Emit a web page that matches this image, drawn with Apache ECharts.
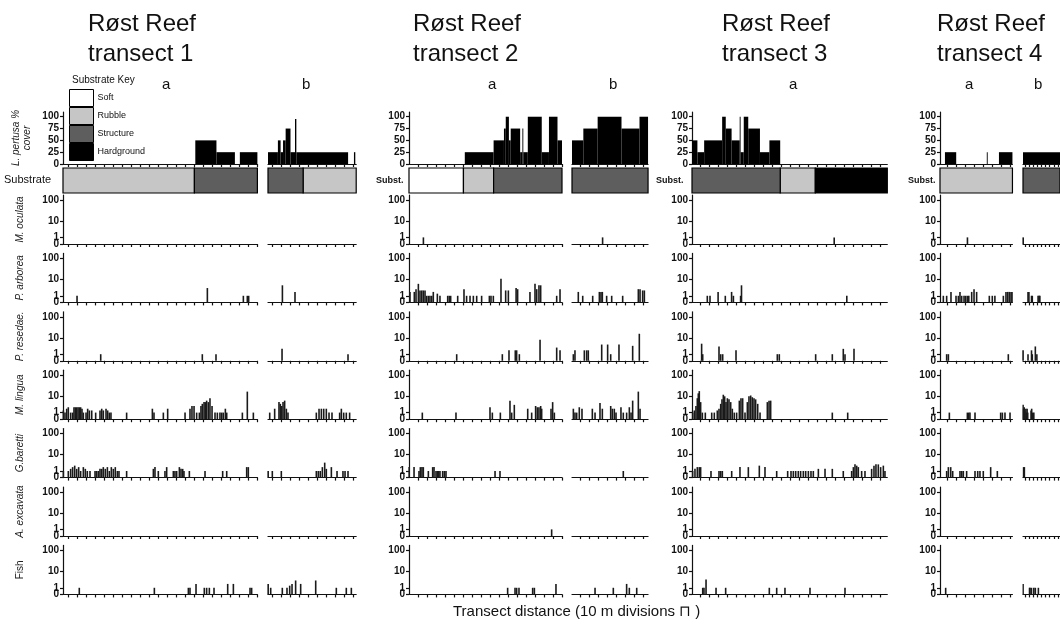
<!DOCTYPE html>
<html>
<head>
<meta charset="utf-8">
<script src="https://cdn.jsdelivr.net/npm/echarts@6/dist/echarts.min.js"></script>
<style>
html, body { margin: 0; background: #fff; }
#chart { width: 1060px; height: 629px; }
</style>
</head>
<body>
<div id="chart"></div>
<script>
// panels: transect segments, lengths in 10 m divisions
var panelNames = ['1a', '1b', '2a', '2b', '3a', '4a', '4b'];
var panelLen = [21.6, 9.8, 17, 8.45, 21.7, 8.05, 9];
var tickStart = [0.6, 0.5, 1.0, 0.9, 0.9, 0.8, 0.5];
var speciesNames = ['M. oculata', 'P. arborea', 'P. resedae.', 'M. lingua', 'G.baretti', 'A. excavata', 'Fish'];
var substrateTypes = ['Soft', 'Rubble', 'Structure', 'Hardground'];
var coverTicks = [0, 25, 50, 75, 100];
var countTicks = [1, 10, 100];
var zeroTick = [0];

// L. pertusa % cover blocks: [start, end, cover]
var pertusa = [
  [[14.7, 17.05, 50], [17.05, 19.1, 25], [19.65, 21.6, 25]],
  [[0, 1.1, 25], [1.1, 1.4, 50], [1.4, 1.67, 25], [1.67, 1.96, 50], [1.96, 2.5, 75], [2.5, 3.0, 25], [3.0, 3.15, 95], [3.15, 8.9, 25], [9.55, 9.7, 25]],
  [[6.2, 9.4, 25], [9.4, 10.55, 50], [10.55, 10.75, 75], [10.75, 11.1, 100], [11.1, 11.3, 50], [11.3, 12.35, 75], [12.35, 12.6, 25], [12.6, 12.7, 75], [12.7, 13.2, 25], [13.2, 14.75, 100], [14.75, 15.55, 25], [15.55, 16.5, 100], [16.5, 17, 50]],
  [[0, 1.26, 50], [1.26, 2.85, 75], [2.85, 5.5, 100], [5.5, 7.5, 75], [7.5, 8.45, 100]],
  [[0, 0.6, 50], [0.6, 1.35, 25], [1.35, 3.35, 50], [3.35, 3.75, 100], [3.75, 4.4, 75], [4.4, 5.3, 50], [5.3, 5.4, 100], [5.4, 5.75, 25], [5.75, 6.25, 100], [6.25, 7.55, 75], [7.55, 8.6, 25], [8.6, 9.8, 50]],
  [[0.55, 1.8, 25], [5.2, 5.3, 25], [6.55, 8.05, 25]],
  [[0, 9, 25]]
];

// substrate: [start, end, type]
var substrate = [
  [[0, 14.6, 'Rubble'], [14.6, 21.6, 'Structure']],
  [[0, 3.9, 'Structure'], [3.9, 9.8, 'Rubble']],
  [[0, 6.05, 'Soft'], [6.05, 9.4, 'Rubble'], [9.4, 17, 'Structure']],
  [[0, 8.45, 'Structure']],
  [[0, 9.8, 'Structure'], [9.8, 13.7, 'Rubble'], [13.7, 21.7, 'Hardground']],
  [[0, 8.05, 'Rubble']],
  [[0, 9, 'Structure']]
];

// counts per position: [division, count], one list per panel
var mOculata = [
  [], [],
  [[1.6, 1]], [[3.4, 1]],
  [[15.8, 1]],
  [[3.05, 1]], [[0.05, 1]]
];

var pArborea = [
  [[1.56, 1], [16.04, 3.5], [20.04, 1], [20.48, 1], [20.63, 1]],
  [[1.6, 5], [3.0, 2]],
  [[0.11, 2], [0.59, 2], [0.78, 3], [1.04, 6], [1.22, 2.5], [1.41, 2.5], [1.59, 2.5], [1.78, 2.5], [1.96, 1], [2.15, 1], [2.33, 1], [2.52, 1], [2.7, 2], [3.15, 1.5], [3.44, 1], [4.3, 1], [4.48, 1], [4.63, 1], [5.41, 1], [6.11, 3], [6.4, 1], [6.78, 1], [7.15, 1], [7.52, 1], [8.07, 1], [8.93, 1], [9.11, 1], [9.37, 1], [10.22, 11], [10.74, 2.5], [11.04, 2.5], [11.9, 3.5], [12.07, 3], [13.44, 2], [14.0, 6], [14.19, 3], [14.44, 5], [14.63, 5], [16.41, 1], [16.78, 3]],
  [[0.7, 2], [1.19, 1], [2.3, 1], [3.04, 2], [3.22, 2], [3.37, 2], [3.85, 1], [4.41, 1], [5.63, 1], [7.37, 3], [7.56, 3], [7.85, 2.5], [8.04, 2.5]],
  [[1.7, 1], [2.0, 1], [2.9, 2], [3.7, 1], [4.4, 2], [4.6, 1], [5.4, 1], [5.5, 5], [17.2, 1]],
  [[0.37, 1], [0.74, 1], [1.22, 2], [1.78, 1], [2.04, 1], [2.22, 2], [2.41, 1], [2.67, 1], [2.85, 1], [3.04, 1], [3.2, 1], [3.52, 2], [3.78, 3], [4.07, 2], [5.48, 1], [5.81, 1], [6.1, 1], [7.04, 1], [7.33, 2], [7.52, 2], [7.7, 2], [7.89, 2], [8.0, 2]],
  [[1.22, 2], [1.44, 2], [2.07, 1], [2.26, 1], [3.67, 1], [3.93, 1], [4.1, 1]]
];

var pResedae = [
  [[4.19, 1], [15.48, 1], [17.0, 1]],
  [[1.56, 2.5], [8.89, 1]],
  [[5.3, 1], [10.37, 1], [11.11, 2], [11.81, 2], [11.96, 2], [12.26, 1], [14.56, 8], [16.41, 3], [16.78, 2]],
  [[0.15, 1], [0.33, 2], [1.37, 2], [1.63, 2], [1.81, 2], [3.3, 4.5], [3.96, 4.5], [4.3, 1], [5.22, 4.5], [6.74, 3.8], [7.48, 16]],
  [[1.07, 5], [1.19, 1], [3.0, 3.5], [3.19, 1], [3.41, 1], [4.89, 2], [9.48, 1], [9.7, 1], [13.74, 1], [15.59, 1], [16.81, 2.5], [17.0, 1], [18.0, 2.5]],
  [[0.74, 1], [0.93, 1], [7.59, 1]],
  [[0.02, 2], [1.22, 1], [2.07, 2], [2.26, 1], [3.0, 3.5], [3.37, 1]]
];

var mLingua = [
  [[0.04, 1.5], [0.22, 1], [0.41, 2], [0.59, 2.5], [0.85, 1], [1.07, 1], [1.22, 2.5], [1.37, 2.5], [1.52, 2.5], [1.67, 2.5], [1.81, 2.5], [1.96, 2.5], [2.11, 2], [2.26, 1], [2.56, 1], [2.74, 2], [2.93, 1.5], [3.19, 1.5], [3.63, 1], [4.11, 1.5], [4.3, 2], [4.48, 1.5], [4.78, 2], [4.96, 1.5], [5.15, 1], [5.33, 1], [7.07, 1], [9.93, 2], [10.11, 1], [11.15, 1], [11.63, 2], [13.56, 1], [14.11, 2], [14.33, 3], [14.56, 3], [14.85, 1], [15.15, 1], [15.33, 3], [15.48, 4], [15.67, 5], [15.81, 5], [15.96, 6], [16.15, 5], [16.33, 8], [16.56, 3], [16.89, 1], [17.15, 1], [17.44, 1], [17.63, 1], [17.81, 1], [18.04, 2], [18.19, 1], [19.93, 1], [20.48, 17], [21.15, 1]],
  [[0.19, 1], [0.74, 2], [1.22, 5], [1.37, 4], [1.52, 3], [1.67, 5], [1.85, 6], [2.04, 2], [2.22, 1], [5.37, 1], [5.67, 2], [5.93, 2], [6.19, 2], [6.48, 2], [6.78, 1], [7.11, 1], [7.96, 1], [8.15, 2], [8.41, 1], [8.7, 1], [9.07, 1]],
  [[1.48, 1], [5.22, 1], [9.0, 2.5], [9.26, 1], [10.15, 1], [11.22, 6], [11.41, 1], [11.7, 3.5], [13.19, 2], [13.63, 1], [14.07, 3], [14.26, 2.5], [14.44, 2.5], [14.63, 3], [14.74, 2], [15.78, 2], [15.96, 5], [16.15, 1]],
  [[0.15, 2], [0.33, 1], [0.52, 1], [0.81, 2.5], [1.11, 2], [2.26, 2], [2.56, 1], [3.11, 4.5], [3.37, 2], [4.3, 3], [4.48, 2], [4.7, 2], [4.89, 1], [5.44, 2.5], [5.7, 1], [6.07, 1], [6.37, 2.5], [6.56, 1], [6.74, 6], [7.37, 17], [7.56, 2]],
  [[0.07, 1], [0.26, 1.5], [0.44, 3], [0.59, 8], [0.7, 14], [0.81, 18], [0.96, 5], [1.15, 1], [1.48, 1], [2.19, 1], [2.48, 1], [2.81, 1.5], [3.0, 2], [3.19, 4], [3.33, 7], [3.48, 12], [3.63, 10], [3.78, 5], [3.93, 8], [4.11, 7], [4.3, 5], [4.48, 2], [4.7, 1], [4.96, 1], [5.26, 6], [5.44, 8], [5.63, 8], [5.89, 1], [6.15, 5], [6.33, 10], [6.52, 11], [6.7, 9], [6.89, 8], [7.07, 7], [7.3, 4], [7.56, 1], [8.37, 5], [8.56, 6], [8.74, 6], [15.59, 1], [17.3, 1]],
  [[1.04, 1], [3.04, 1], [3.19, 1], [3.33, 1], [3.89, 1], [6.74, 1], [6.93, 1], [7.22, 1], [7.78, 1]],
  [[0.02, 3.5], [0.15, 2], [0.3, 2.5], [0.44, 1.5], [0.7, 2], [0.85, 1], [1.0, 2], [1.15, 1], [1.96, 1.5], [2.11, 2], [2.26, 1], [2.63, 1]]
];

var gBaretti = [
  [[0.04, 1], [0.59, 1], [0.85, 1.5], [1.07, 2], [1.3, 2.5], [1.52, 1.5], [1.74, 2], [1.96, 1], [2.26, 2], [2.48, 1.5], [2.7, 1], [3.0, 1], [3.56, 1], [3.74, 1], [3.93, 1], [4.11, 1.5], [4.3, 1.5], [4.48, 2], [4.7, 1.5], [4.93, 2], [5.15, 1], [5.37, 2], [5.59, 1.5], [5.81, 2], [6.04, 1], [6.22, 1], [7.07, 1], [10.04, 1.5], [10.22, 2], [10.59, 1], [11.33, 1], [11.52, 2], [12.26, 1], [12.44, 1], [12.63, 1], [12.93, 2], [13.11, 1.5], [13.3, 1.5], [13.44, 1], [14.04, 1], [15.78, 1], [17.74, 1], [18.19, 1], [20.41, 2], [20.59, 2]],
  [[0.02, 1], [0.48, 1], [1.48, 1], [5.37, 1], [5.59, 1], [5.81, 1], [6.04, 2], [6.3, 3.8], [6.48, 1.5], [7.04, 2], [7.67, 1], [8.33, 1], [8.56, 1], [8.89, 1]],
  [[0.02, 2], [0.56, 2], [1.11, 1], [1.26, 2], [1.44, 2], [1.59, 2], [2.15, 1], [2.63, 2], [2.78, 2], [3.0, 1], [3.15, 1], [3.3, 1], [3.44, 1], [3.74, 1], [3.93, 1], [4.11, 1], [9.56, 1], [10.11, 1]],
  [[5.7, 1]],
  [[0.07, 1], [0.33, 1.5], [0.59, 2], [0.81, 2], [0.96, 2], [2.11, 1], [3.0, 1], [3.19, 1], [3.37, 1], [4.41, 1], [5.33, 2], [6.26, 2], [7.48, 2.5], [8.11, 2], [9.41, 1], [10.63, 1], [11.0, 1], [11.26, 1], [11.52, 1], [11.81, 1], [12.07, 1], [12.37, 1], [12.63, 1], [12.93, 1], [13.22, 1], [13.48, 1], [14.04, 1.5], [14.78, 1.5], [15.59, 1.5], [16.81, 1], [17.74, 1], [17.93, 2], [18.11, 3], [18.3, 2.5], [18.48, 2], [18.85, 1], [19.22, 1], [19.96, 1.5], [20.22, 2.5], [20.44, 3], [20.7, 3], [20.96, 2], [21.26, 2.5], [21.44, 1]],
  [[0.74, 1], [0.93, 2], [1.19, 2], [1.41, 1], [2.22, 1], [2.41, 1], [2.59, 1], [2.96, 1], [3.89, 1], [4.19, 1], [4.44, 1], [4.81, 1], [5.63, 2], [6.37, 1]],
  [[0.15, 2], [0.33, 2]]
];

var aExcavata = [
  [], [],
  [[15.85, 1]], [],
  [], [], []
];

var fish = [
  [[1.81, 1], [10.15, 1], [13.93, 1], [14.11, 1], [14.78, 2], [15.7, 1], [15.96, 1], [16.26, 1], [16.78, 1], [18.3, 2], [18.93, 2], [20.78, 1], [20.96, 1]],
  [[0.02, 2], [0.3, 1], [1.59, 1], [2.11, 1], [2.41, 1.5], [2.67, 2], [3.07, 3.3], [3.63, 2], [5.3, 3.3], [7.59, 1], [8.7, 1], [9.26, 1]],
  [[10.96, 1], [11.78, 1], [11.96, 1], [12.22, 1], [13.74, 1], [13.93, 1], [16.33, 2]],
  [[2.56, 1], [4.59, 1], [6.07, 2], [6.37, 1], [7.19, 1]],
  [[1.19, 1], [1.33, 1], [1.56, 3.8], [2.67, 1], [3.74, 1], [8.59, 1], [9.41, 1], [10.33, 1], [13.11, 1], [17.0, 1]],
  [[0.63, 1]],
  [[0.02, 2], [1.59, 1], [1.7, 1], [2.07, 1], [2.63, 1], [3.0, 1], [3.74, 1]]
];

var speciesData = [mOculata, pArborea, pResedae, mLingua, gBaretti, aExcavata, fish];

// ---- layout ----
var FONT = '"Liberation Sans", Arial, sans-serif';
var DIV = 9;                                   // px per 10 m division
var panelLeft = [63, 268, 409, 572, 692, 940, 1023];
var showLabels = [true, false, true, false, true, true, false];
var substrateColors = { Soft: '#ffffff', Rubble: '#c6c6c6', Structure: '#5e5e5e', Hardground: '#000000' };
var axisLine = { color: '#111', width: 1.2 };

function log1(v) { return Math.log10(v + 1); }

function renderCover(params, api) {
  var a = api.coord([api.value(0), api.value(2)]);
  var b = api.coord([api.value(1), 0]);
  return { type: 'rect', shape: { x: a[0], y: a[1], width: b[0] - a[0], height: b[1] - a[1] }, style: { fill: '#000' } };
}

function renderBox(params, api) {
  var a = api.coord([api.value(0), 1]);
  var b = api.coord([api.value(1), 0]);
  return {
    type: 'rect',
    shape: { x: a[0], y: a[1], width: b[0] - a[0], height: b[1] - a[1] },
    style: { fill: api.visual('color'), stroke: '#000', lineWidth: 1.2 }
  };
}

var grids = [], xAxes = [], yAxes = [], series = [];

panelNames.forEach(function (pn, p) {
  var len = panelLen[p];
  var left = panelLeft[p];
  var ticks = [];
  for (var t = tickStart[p]; t <= len + 0.01; t += 1) ticks.push(+t.toFixed(2));

  function addRow(top, height, xShow, yOpt) {
    grids.push({ left: left, top: top, width: len * DIV, height: height });
    var gi = grids.length - 1;
    xAxes.push({
      gridIndex: gi, type: 'value', min: 0, max: len, show: xShow,
      axisLine: { onZero: false, lineStyle: axisLine },
      axisTick: { show: true, customValues: ticks, length: 3, lineStyle: axisLine },
      axisLabel: { show: false }, splitLine: { show: false }
    });
    yAxes.push(Object.assign({ gridIndex: gi, type: 'value', splitLine: { show: false } }, yOpt));
    return { x: xAxes.length - 1, y: yAxes.length - 1, grid: gi };
  }

  var lab = showLabels[p];
  var labStyle = {
    show: lab, fontSize: 10, fontWeight: 'bold', color: '#111', margin: 4, fontFamily: FONT,
    showMinLabel: true, showMaxLabel: true, hideOverlap: false
  };

  // L. pertusa cover
  var r = addRow(112, 52, true, {
    min: 0, max: 110, show: lab,
    axisLine: { show: true, onZero: false, lineStyle: axisLine },
    axisTick: { show: true, customValues: coverTicks, length: 3, lineStyle: axisLine },
    axisLabel: Object.assign({
      customValues: coverTicks,
      formatter: function (v) { return String(v); }
    }, labStyle),
    name: p === 0 ? 'L. pertusa %\ncover' : '',
    nameLocation: 'middle', nameRotate: 90, nameGap: 30,
    nameTextStyle: { fontStyle: 'italic', fontSize: 10, color: '#222', lineHeight: 11, fontFamily: FONT }
  });
  series.push({
    type: 'custom', xAxisIndex: r.x, yAxisIndex: r.y, silent: true,
    renderItem: renderCover, encode: { x: [0, 1], y: 2 },
    data: pertusa[p]
  });

  // substrate
  r = addRow(168, 25, false, { min: 0, max: 1, show: false });
  substrateTypes.forEach(function (type) {
    var segs = substrate[p].filter(function (s) { return s[2] === type; })
      .map(function (s) { return [s[0], s[1]]; });
    if (!segs.length) return;
    series.push({
      type: 'custom', name: type, xAxisIndex: r.x, yAxisIndex: r.y, silent: true,
      renderItem: renderBox, encode: { x: [0, 1] },
      itemStyle: { color: substrateColors[type], borderColor: '#000', borderWidth: 1 },
      data: segs
    });
  });

  // species counts, log(x+1) axis
  var countVals = countTicks.map(log1);
  var fmt = function (v) { return String(Math.round(Math.pow(10, v) - 1)); };
  speciesData.forEach(function (sp, i) {
    var top = 195 + 58.4 * i;
    var rr = addRow(top, 49, true, {
      min: 0, max: 2.23, show: lab,
      axisLine: { show: true, onZero: false, lineStyle: axisLine },
      axisTick: { show: true, customValues: countVals, length: 3, lineStyle: axisLine },
      axisLabel: Object.assign({ customValues: countVals, formatter: fmt }, labStyle),
      name: p === 0 ? speciesNames[i] : '',
      nameLocation: 'middle', nameRotate: 90, nameGap: 38,
      nameTextStyle: { fontStyle: i === 6 ? 'normal' : 'italic', fontSize: 10, color: '#222', fontFamily: FONT }
    });
    // second axis in the same grid carries the "0" label, so it does not hide "1"
    yAxes.push({
      gridIndex: rr.grid, type: 'value', min: 0, max: 2.23, show: lab, position: 'left',
      splitLine: { show: false },
      axisLine: { show: false, onZero: false },
      axisTick: { show: true, customValues: zeroTick, length: 3, lineStyle: axisLine },
      axisLabel: Object.assign({ customValues: zeroTick, formatter: fmt }, labStyle)
    });
    series.push({
      type: 'bar', xAxisIndex: rr.x, yAxisIndex: rr.y, silent: true,
      barWidth: 1.6, itemStyle: { color: '#1a1a1a' },
      data: sp[p].map(function (d) { return [d[0], log1(d[1])]; })
    });
  });
});

function txt(text, left, top, size, extra) {
  return {
    text: text, left: left, top: top, padding: 0,
    textStyle: Object.assign({ fontSize: size, fontWeight: 'normal', color: '#111', fontFamily: FONT }, extra || {})
  };
}

var titles = [
  txt('Røst Reef\ntransect 1', 88, 9, 24, { lineHeight: 30 }),
  txt('Røst Reef\ntransect 2', 413, 9, 24, { lineHeight: 30 }),
  txt('Røst Reef\ntransect 3', 722, 9, 24, { lineHeight: 30 }),
  txt('Røst Reef\ntransect 4', 937, 9, 24, { lineHeight: 30 }),
  txt('a', 162, 77, 15), txt('b', 302, 77, 15),
  txt('a', 488, 77, 15), txt('b', 609, 77, 15),
  txt('a', 789, 77, 15),
  txt('a', 965, 77, 15), txt('b', 1034, 77, 15),
  txt('Substrate Key', 72, 75, 10),
  txt('Substrate', 4, 174, 11),
  txt('Subst.', 376, 176, 9, { fontWeight: 'bold' }),
  txt('Subst.', 656, 176, 9, { fontWeight: 'bold' }),
  txt('Subst.', 908, 176, 9, { fontWeight: 'bold' }),
  txt('Transect distance (10 m divisions \u2293 )', 453, 604, 15)
];

var chart = echarts.init(document.getElementById('chart'));
chart.setOption({
  animation: false,
  backgroundColor: '#fff',
  textStyle: { fontFamily: FONT },
  title: titles,
  legend: {
    data: substrateTypes, orient: 'vertical', left: 69, top: 89, padding: 0,
    itemWidth: 24, itemHeight: 17, itemGap: 0, icon: 'rect', selectedMode: false,
    itemStyle: { borderColor: '#000', borderWidth: 1 },
    textStyle: { fontSize: 9, color: '#111', fontFamily: FONT, padding: [0, 0, 0, -1] }
  },
  grid: grids,
  xAxis: xAxes,
  yAxis: yAxes,
  series: series
});
window.addEventListener('resize', chart.resize);
</script>
</body>
</html>
